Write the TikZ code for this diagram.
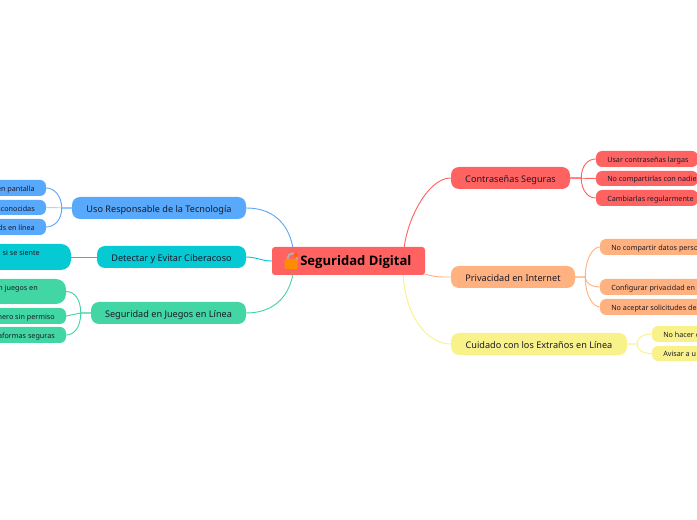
\documentclass[tikz,border=0pt]{standalone}
\usepackage{fontspec}
\setmainfont{Noto Sans}
\newfontfamily\cbold{Open Sans}
\usetikzlibrary{calc}
\definecolor{cred}{HTML}{FF6361}
\definecolor{corange}{HTML}{FFB27F}
\definecolor{cyellow}{HTML}{F9F28B}
\definecolor{cblue}{HTML}{58A9FB}
\definecolor{ccyan}{HTML}{06CAD3}
\definecolor{cgreen}{HTML}{42D6A4}
\definecolor{ink}{HTML}{1A1A2A}
\tikzset{
  lnk/.style={line width=.7pt,line cap=round},
  box/.style={inner sep=0pt,text=ink},
  mainbox/.style={box,rounded corners=8*.75pt,font=\fontsize{6.85}{8}\selectfont,text height=6.2pt,text depth=0pt},
  subbox/.style={box,rounded corners=6*.75pt},
  subtxt/.style={inner sep=0pt,text=ink,font=\fontsize{5.4}{7}\selectfont,text height=4.6pt,text depth=0pt},
}
% name, x1, y1, x2, y2, style, text
\newcommand{\bx}[7]{\node[#6,minimum width={(#4-#2)*.75pt},minimum height={(#5-#3)*.75pt}] (#1) at ({(#2+#4)/2},{(#3+#5)/2}) {#7};}
\begin{document}
\begin{tikzpicture}[x=.75pt,y=-.75pt]
\path[use as bounding box] (0,0) rectangle (697,520);
\clip (0,0) rectangle (697,520);
% central
\bx{c}{272}{247}{425}{275}{box,fill=cred,rounded corners=2.2pt}{}
\node[inner sep=0pt,anchor=west,text=black,font=\cbold\fontsize{9.8}{11}\selectfont\bfseries,text height=7pt,text depth=0pt] (ctxt) at (300,261) {Seguridad Digital};
\path (c.west) ++(13,0) coordinate (lk);
\draw[line width=1.3pt,draw=gray!60] ($(lk)+(3,0)$) -- ($(lk)+(3,-3)$) arc[start angle=180,end angle=0,radius=3.4pt] -- ($(lk)+(12,0)$);
\fill[orange!90!yellow,rounded corners=.8pt] ($(lk)+(0,-2)$) rectangle ($(lk)+(13,8)$);
\fill[orange!75!red] ($(lk)+(11,-6)$) circle[radius=1.6pt];
% right branches
\bx{a}{451}{167}{570}{189}{mainbox,fill=cred}{Contraseñas Seguras}
\bx{a1}{596}{151}{698}{167}{subbox,fill=cred}{}
\bx{a2}{596}{171}{698}{186}{subbox,fill=cred}{}
\bx{a3}{596}{190}{698}{206}{subbox,fill=cred}{}
\node[subtxt,anchor=west] (a1t) at (607,159) {Usar contraseñas largas};
\node[subtxt,anchor=west] (a2t) at (607,178.5) {No compartirlas con nadie};
\node[subtxt,anchor=west] (a3t) at (607,198) {Cambiarlas regularmente};
\bx{b}{451}{266}{575}{288}{mainbox,fill=corange}{Privacidad en Internet}
\bx{b1}{600}{239}{720}{255}{subbox,fill=corange}{}
\bx{b2}{600}{279}{720}{295}{subbox,fill=corange}{}
\bx{b3}{600}{299}{720}{315}{subbox,fill=corange}{}
\node[subtxt,anchor=west] (b1t) at (611,247) {No compartir datos perso};
\node[subtxt,anchor=west] (b2t) at (611,287.5) {Configurar privacidad en};
\node[subtxt,anchor=west] (b3t) at (611,307) {No aceptar solicitudes de};
\bx{d}{451}{333}{627}{355}{mainbox,fill=cyellow}{Cuidado con los Extraños en Línea}
\bx{d1}{652}{326}{720}{342}{subbox,fill=cyellow}{}
\bx{d2}{652}{346}{720}{361}{subbox,fill=cyellow}{}
\node[subtxt,anchor=west] (d1t) at (663,334) {No hacer c};
\node[subtxt,anchor=west] (d2t) at (663,353.5) {Avisar a u};
% left branches
\bx{u}{72}{197}{246}{219}{mainbox,fill=cblue}{Uso Responsable de la Tecnología}
\bx{u1}{-40}{180}{46}{196}{subbox,fill=cblue}{}
\bx{u2}{-40}{200}{46}{215}{subbox,fill=cblue}{}
\bx{u3}{-40}{219}{46}{235}{subbox,fill=cblue}{}
\node[subtxt,anchor=east] (u1t) at (35,188) {en pantalla};
\node[subtxt,anchor=east] (u2t) at (35,208) {sconocidas};
\node[subtxt,anchor=east] (u3t) at (35,227.5) {ds en línea};
\bx{v}{97}{246}{246}{268}{mainbox,fill=ccyan}{Detectar y Evitar Ciberacoso}
\bx{v1}{-40}{244}{71}{270}{subbox,fill=ccyan,rounded corners=7.5pt}{}
\node[subtxt,anchor=east] (v1t) at (40,252.5) {si se siente};
\bx{w}{91}{302}{246}{324}{mainbox,fill=cgreen}{Seguridad en Juegos en Línea}
\bx{w1}{-40}{279}{66}{304}{subbox,fill=cgreen,rounded corners=7.5pt}{}
\bx{w2}{-40}{308}{66}{324}{subbox,fill=cgreen}{}
\bx{w3}{-40}{327}{66}{343}{subbox,fill=cgreen}{}
\node[subtxt,anchor=east] (w1t) at (38,287.5) {n juegos en};
\node[subtxt,anchor=east] (w2t) at (55,316) {nero sin permiso};
\node[subtxt,anchor=east] (w3t) at (55,335.5) {aformas seguras};
% central links
\draw[lnk,cred] ($(c.north east)+(-21,0)$) .. controls +(4,-30) and +(-22,0) .. (a.west);
\draw[lnk,corange] ($(c.south east)+(0,-1)$) .. controls +(12,3) and +(-12,0) .. (b.west);
\draw[lnk,cyellow] ($(c.south east)+(-22,0)$) .. controls +(2,40) and +(-24,0) .. (d.west);
\draw[lnk,cblue] ($(c.north west)+(21,0)$) .. controls +(-5,-25) and +(25,0) .. (u.east);
\draw[lnk,ccyan] (c.west) .. controls +(-10,0) and +(10,0) .. (v.east);
\draw[lnk,cgreen] ($(c.south west)+(21,0)$) .. controls +(-5,24) and +(25,0) .. (w.east);
% sub links right
\draw[lnk,cred] (a.east) -- ++(11,0) .. controls +(0,-12) and +(-8,0) .. (a1.west);
\draw[lnk,cred] (a.east) -- (a2.west);
\draw[lnk,cred] (a.east) -- ++(11,0) .. controls +(0,12) and +(-8,0) .. (a3.west);
\draw[lnk,corange] (b.east) -- ++(10,0) .. controls +(0,-20) and +(-6,0) .. (b1.west);
\draw[lnk,corange] (b.east) -- ++(10,0) .. controls +(0,6) and +(-8,0) .. (b2.west);
\draw[lnk,corange] (b.east) -- ++(10,0) .. controls +(0,20) and +(-6,0) .. (b3.west);
\draw[lnk,cyellow] (d.east) -- ++(10,0) .. controls +(0,-7) and +(-8,0) .. (d1.west);
\draw[lnk,cyellow] (d.east) -- ++(10,0) .. controls +(0,7) and +(-8,0) .. (d2.west);
% sub links left
\draw[lnk,cblue] (u.west) -- ++(-10,0) .. controls +(0,-12) and +(8,0) .. (u1.east);
\draw[lnk,cblue!50] (u.west) -- (u2.east);
\draw[lnk,cblue] (u.west) -- ++(-10,0) .. controls +(0,12) and +(8,0) .. (u3.east);
\draw[lnk,ccyan] (v.west) -- (v1.east);
\draw[lnk,cgreen] (w.west) -- ++(-10,0) .. controls +(0,-14) and +(8,0) .. (w1.east);
\draw[lnk,cgreen] (w.west) -- ++(-10,0) -- (w2.east);
\draw[lnk,cgreen] (w.west) -- ++(-10,0) .. controls +(0,14) and +(8,0) .. (w3.east);
\end{tikzpicture}
\end{document}
